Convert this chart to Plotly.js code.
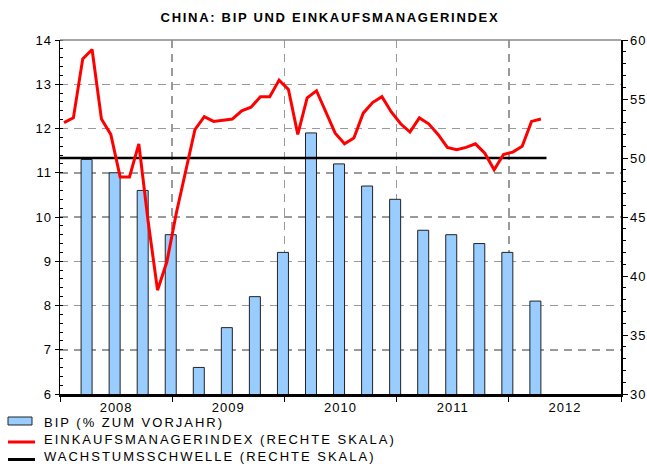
<!DOCTYPE html>
<html><head><meta charset="utf-8">
<script src="https://cdn.plot.ly/plotly-3.0.1.min.js"></script>
<style>
html,body{margin:0;padding:0;background:#fff;}
#chart{width:647px;height:464px;}
.gtitle{letter-spacing:1.7px;}
.annotation-text{letter-spacing:2px;}
.xtick text,.ytick text,.y2tick text{letter-spacing:1px;}
</style></head><body><div id="chart"></div>
<script>
// GDP (% y/y), quarterly
const quarters = ['2008Q1','2008Q2','2008Q3','2008Q4','2009Q1','2009Q2','2009Q3','2009Q4',
  '2010Q1','2010Q2','2010Q3','2010Q4','2011Q1','2011Q2','2011Q3','2011Q4','2012Q1'];
const gdp = [11.3, 11.0, 10.6, 9.6, 6.6, 7.5, 8.2, 9.2, 11.9, 11.2, 10.7, 10.4, 9.7, 9.6, 9.4, 9.2, 8.1];

// Purchasing managers index, monthly (right scale)
const pmiStart = '2008-01';
const pmi2008 = [53.0,53.4,58.4,59.2,53.3,52.0,48.4,48.4,51.2,44.6,38.8,41.2];
const pmi2009 = [45.3,49.0,52.4,53.5,53.1,53.2,53.3,54.0,54.3,55.2,55.2,56.6];
const pmi2010 = [55.8,52.0,55.1,55.7,53.9,52.1,51.2,51.7,53.8,54.7,55.2,53.9];
const pmi2011 = [52.9,52.2,53.4,52.9,52.0,50.9,50.7,50.9,51.2,50.4,49.0,50.3];
const pmi2012 = [50.5,51.0,53.1,53.3];

// Growth threshold (right scale)
const threshold = 50;

const yearLabels = ['2008','2009','2010','2011','2012'];
const seriesNames = ['BIP (% ZUM VORJAHR)', 'EINKAUFSMANAGERINDEX (RECHTE SKALA)', 'WACHSTUMSSCHWELLE (RECHTE SKALA)'];

// ---- build positions (numeric years) ----
const pmi = [].concat(pmi2008, pmi2009, pmi2010, pmi2011, pmi2012);
const y0 = parseInt(pmiStart.slice(0,4)), m0 = parseInt(pmiStart.slice(5,7));
const pmiX = pmi.map((v,i)=> y0 + (m0-1+i)/12 + 0.036);
const gdpX = quarters.map(q => parseInt(q.slice(0,4)) + parseInt(q.slice(5))*0.25 - 0.013);
const yearNums = yearLabels.map(Number);
const xStart = yearNums[0], xEnd = yearNums[yearNums.length-1] + 1;
const threshX = [xStart, pmiX[pmiX.length-1] + 0.05];

const FONT = 'Liberation Sans, Arial, sans-serif';
const BLUE = '#99CCFF', RED = '#FF0000';

const traces = [
  {type:'bar', x:gdpX, y:gdp, width:0.098, name:seriesNames[0],
   marker:{color:BLUE, line:{color:'#222222', width:1}}, yaxis:'y', hoverinfo:'skip'},
  {type:'scatter', mode:'lines', x:threshX, y:threshX.map(()=>threshold), name:seriesNames[2],
   line:{color:'#000000', width:2.5}, yaxis:'y2', hoverinfo:'skip'},
  {type:'scatter', mode:'lines', x:pmiX, y:pmi, name:seriesNames[1],
   line:{color:RED, width:3}, yaxis:'y2', hoverinfo:'skip'}
];

const grid = {gridcolor:'#9a9a9a', griddash:'8px,6px', gridwidth:1.5};

// legend drawn in paper coordinates (pixel -> paper helpers)
const L = 60, R = 621, T = 40, B = 394;
const px = v => (v - L)/(R - L);
const py = v => (B - v)/(B - T);
const legShapes = [
  {type:'rect', xref:'paper', yref:'paper', x0:px(8), x1:px(32), y0:py(425), y1:py(417),
   fillcolor:BLUE, line:{color:'#222', width:1}},
  {type:'line', xref:'paper', yref:'paper', x0:px(8), x1:px(35), y0:py(442), y1:py(442), line:{color:RED, width:3}},
  {type:'line', xref:'paper', yref:'paper', x0:px(8), x1:px(35), y0:py(459.5), y1:py(459.5), line:{color:'#000', width:3}}
];
const legY = [422.5, 439, 456.5];
const legAnn = seriesNames.map((n,i)=>({text:n, xref:'paper', yref:'paper', x:px(42), y:py(legY[i]),
  xanchor:'left', yanchor:'middle', showarrow:false, font:{family:FONT, size:13, color:'#000'}}));

const layout = {
  width:647, height:464,
  margin:{l:L, r:647-R, t:T, b:464-B, autoexpand:false},
  paper_bgcolor:'#fff', plot_bgcolor:'#fff',
  font:{family:FONT, size:13, color:'#000'},
  title:{text:'CHINA: BIP UND EINKAUFSMANAGERINDEX', font:{family:FONT, size:13, weight:'bold', color:'#000'},
         x:0.51, xref:'container', xanchor:'center', y:0.963, yref:'container', yanchor:'middle'},
  showlegend:false,
  bargap:0,
  xaxis:{range:[xStart, xEnd], tickmode:'array', tickvals:yearNums.map(y=>y+0.5), ticktext:yearLabels,
         ticks:'', showline:true, linecolor:'#000', linewidth:2.5, showgrid:false, zeroline:false,
         ticklabelstandoff:0, tickfont:{family:FONT, size:13},
         minor:Object.assign({tickmode:'array', tickvals:yearNums.concat([xEnd]), ticks:'outside', ticklen:5,
                tickcolor:'#000', tickwidth:1, showgrid:true}, grid)},
  yaxis:Object.assign({range:[6,14], tickmode:'linear', tick0:6, dtick:1, ticks:'outside', ticklen:4, tickcolor:'#000',
         showline:true, linecolor:'#000', linewidth:1.5, showgrid:true, zeroline:false, tickfont:{family:FONT, size:13},
         minor:{dtick:0.2, ticks:'inside', ticklen:3, tickcolor:'#000', showgrid:false}}, grid),
  yaxis2:{range:[30,60], tickmode:'linear', tick0:30, dtick:5, overlaying:'y', side:'right', ticks:'outside', ticklen:5,
         tickcolor:'#000', showline:true, linecolor:'#000', linewidth:1.5, showgrid:false, zeroline:false,
         tickfont:{family:FONT, size:13}, minor:{dtick:1, ticks:'outside', ticklen:3, tickcolor:'#000'}},
  shapes:[{type:'line', xref:'paper', yref:'paper', x0:0, x1:1, y0:1, y1:1, line:{color:'#888', width:1.5}, layer:'above'}].concat(legShapes),
  annotations:legAnn
};

Plotly.newPlot('chart', traces, layout, {staticPlot:true, displayModeBar:false});
</script></body></html>
